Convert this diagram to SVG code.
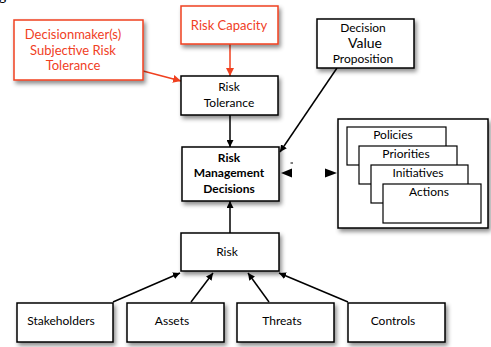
<svg xmlns="http://www.w3.org/2000/svg" width="491" height="347" viewBox="0 0 491 347">
<style>
.box{fill:#fff;stroke:#000;stroke-width:1.5}
.rbox{fill:#fff;stroke:#f0401f;stroke-width:1.5}
.card{fill:#fff;stroke:#000;stroke-width:1.2}
.t{font-family:Lato,"Open Sans","Liberation Sans",sans-serif;font-size:12px;fill:#000;text-anchor:middle}
.rt{font-family:Lato,"Open Sans","Liberation Sans",sans-serif;font-size:13px;fill:#f0401f;text-anchor:middle}
.b{font-weight:bold}
.ln{stroke:#000;stroke-width:1.5;fill:none}
.rln{stroke:#f0401f;stroke-width:1.5;fill:none}
</style>
<defs>
<filter id="sh" x="-20%" y="-20%" width="150%" height="160%">
<feDropShadow dx="2" dy="3" stdDeviation="2" flood-color="#000" flood-opacity="0.45"/>
</filter>
<marker id="ah" viewBox="0 0 10 10" refX="10" refY="5" markerWidth="7" markerHeight="7" orient="auto" markerUnits="userSpaceOnUse">
<path d="M0,0 L10,5 L0,10 z" fill="#000"/>
</marker>
<marker id="rah" viewBox="0 0 10 10" refX="10" refY="5" markerWidth="8" markerHeight="8" orient="auto" markerUnits="userSpaceOnUse">
<path d="M0,0 L10,5 L0,10 z" fill="#f0401f"/>
</marker>
</defs>
<text x="-1" y="1" class="t" style="text-anchor:start;font-size:14px">g</text>
<g id="connectors">
<line class="rln" x1="143" y1="71" x2="181" y2="81" marker-end="url(#rah)"/>
<line class="rln" x1="230" y1="44" x2="230" y2="76" marker-end="url(#rah)"/>
<line class="ln" x1="230" y1="115" x2="230" y2="147" marker-end="url(#ah)"/>
<line class="ln" x1="337" y1="68" x2="280" y2="152" marker-end="url(#ah)"/>
<line class="ln" x1="230" y1="233" x2="230" y2="201" marker-end="url(#ah)"/>
<line class="ln" x1="113" y1="302" x2="180" y2="273" marker-end="url(#ah)"/>
<line class="ln" x1="191" y1="302" x2="213" y2="273" marker-end="url(#ah)"/>
<line class="ln" x1="269" y1="302" x2="248" y2="273" marker-end="url(#ah)"/>
<line class="ln" x1="348" y1="302" x2="279" y2="273" marker-end="url(#ah)"/>
<path d="M281,173 L292,168.5 L292,177.5 z" fill="#000"/>
<path d="M337,173 L325,168.5 L325,177.5 z" fill="#000"/>
<line x1="290.5" y1="163" x2="293" y2="163" stroke="#000" stroke-width="1"/>
</g>
<g id="decisionmaker">
<rect class="rbox" x="14" y="20" width="129" height="60" filter="url(#sh)"/>
<text class="rt" x="73" y="39">Decisionmaker(s)</text>
<text class="rt" x="73" y="55">Subjective Risk</text>
<text class="rt" x="73" y="70">Tolerance</text>
</g>
<g id="risk-capacity">
<rect class="rbox" x="181" y="6" width="97" height="38" filter="url(#sh)"/>
<text class="rt" x="229" y="30">Risk Capacity</text>
</g>
<g id="risk-tolerance">
<rect class="box" x="181" y="76" width="97" height="39" filter="url(#sh)"/>
<text class="t" x="229" y="91">Risk</text>
<text class="t" x="229" y="107">Tolerance</text>
</g>
<g id="decision-value">
<rect class="box" x="317" y="19" width="97" height="49" filter="url(#sh)"/>
<text class="t" x="363" y="32">Decision</text>
<text class="t" x="365" y="48" style="font-size:14px">Value</text>
<text class="t" x="363" y="63">Proposition</text>
</g>
<g id="risk-management-decisions">
<rect class="box" x="182" y="147" width="97" height="54" filter="url(#sh)"/>
<text class="t b" x="229" y="162">Risk</text>
<text class="t b" x="229" y="177">Management</text>
<text class="t b" x="229" y="193">Decisions</text>
</g>
<g id="actions-group">
<rect class="box" x="338" y="119" width="150" height="109" stroke-width="2" filter="url(#sh)"/>
<rect class="card" x="347" y="127" width="99" height="38"/>
<text class="t" x="393" y="139">Policies</text>
<rect class="card" x="359" y="146" width="98" height="38"/>
<text class="t" x="406" y="158">Priorities</text>
<rect class="card" x="371" y="165" width="97" height="38"/>
<text class="t" x="418" y="177">Initiatives</text>
<rect class="card" x="383" y="184" width="98" height="39"/>
<text class="t" x="429" y="196">Actions</text>
</g>
<g id="risk">
<rect class="box" x="181" y="233" width="98" height="38" filter="url(#sh)"/>
<text class="t" x="227" y="256">Risk</text>
</g>
<g id="stakeholders">
<rect class="box" x="17" y="303" width="96" height="39" filter="url(#sh)"/>
<text class="t" x="61" y="325">Stakeholders</text>
</g>
<g id="assets">
<rect class="box" x="127" y="303" width="97" height="39" filter="url(#sh)"/>
<text class="t" x="172" y="325">Assets</text>
</g>
<g id="threats">
<rect class="box" x="237" y="303" width="97" height="39" filter="url(#sh)"/>
<text class="t" x="282" y="325">Threats</text>
</g>
<g id="controls">
<rect class="box" x="348" y="303" width="97" height="39" filter="url(#sh)"/>
<text class="t" x="393" y="325">Controls</text>
</g>
</svg>
